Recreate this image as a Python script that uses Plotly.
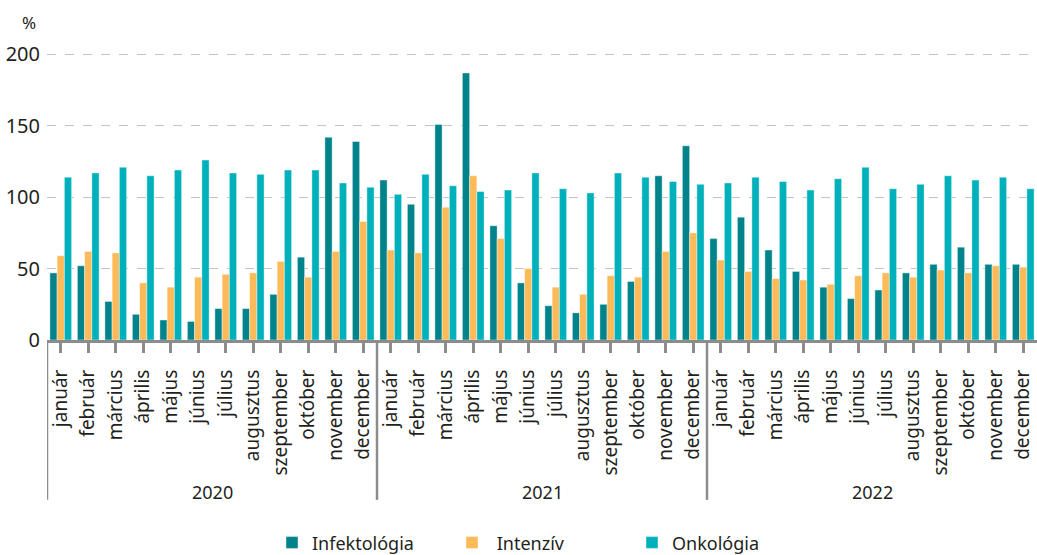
import plotly.graph_objects as go

months = ["január", "február", "március", "április", "május", "június",
          "július", "augusztus", "szeptember", "október", "november", "december"]
years = ["2020", "2021", "2022"]

infektologia = [47, 52, 27, 18, 14, 13, 22, 22, 32, 58, 142, 139,
                112, 95, 151, 187, 80, 40, 24, 19, 25, 41, 115, 136,
                71, 86, 63, 48, 37, 29, 35, 47, 53, 65, 53, 53]
intenziv = [59, 62, 61, 40, 37, 44, 46, 47, 55, 44, 62, 83,
            63, 61, 93, 115, 71, 50, 37, 32, 45, 44, 62, 75,
            56, 48, 43, 42, 39, 45, 47, 44, 49, 47, 52, 51]
onkologia = [114, 117, 121, 115, 119, 126, 117, 116, 119, 119, 110, 107,
             102, 116, 108, 104, 105, 117, 106, 103, 117, 114, 111, 109,
             110, 114, 111, 105, 113, 121, 106, 109, 115, 112, 114, 106]

n_cat = len(years) * len(months)
x_idx = list(range(n_cat))
x_labels = months * len(years)

font_family = "Noto Sans, Open Sans, sans-serif"
text_col = "#231F20"
axis_col = "#8C8C8C"

fig = go.Figure()
series = [("Infektológia", infektologia, "#00838A"),
          (" Intenzív", intenziv, "#FCBA58"),
          ("Onkológia", onkologia, "#00B1BC")]
for name, vals, col in series:
    fig.add_trace(go.Bar(x=x_idx, y=vals, name=name,
                         marker=dict(color=col, line=dict(color="rgba(255,255,255,0.7)", width=0.6))))

# year separators
for i in range(len(years)):
    fig.add_shape(type="line", xref="x", yref="paper",
                  x0=i * 12 - 0.5, x1=i * 12 - 0.5, y0=0, y1=-0.557,
                  line=dict(color=axis_col, width=2.5))
    fig.add_annotation(x=i * 12 + 5.5, y=-0.53, xref="x", yref="paper",
                       text=years[i], showarrow=False,
                       font=dict(size=18, color=text_col, family=font_family),
                       yanchor="middle")

fig.add_annotation(x=-0.027, y=1.108, xref="paper", yref="paper", xanchor="left",
                   yanchor="middle", text="%", showarrow=False,
                   font=dict(size=17, color=text_col, family=font_family))

fig.update_layout(
    width=1037, height=555,
    margin=dict(l=47, r=0, t=53, b=215, autoexpand=False),
    plot_bgcolor="white", paper_bgcolor="white",
    barmode="group", bargap=0.21, bargroupgap=0.0,
    font=dict(family=font_family, color=text_col),
    xaxis=dict(tickmode="array", tickvals=x_idx, ticktext=x_labels,
               tickangle=-90, range=[-0.5, n_cat - 0.5], automargin=False,
               tickson="boundaries", ticks="outside", ticklen=10,
               tickwidth=2.5, tickcolor=axis_col,
               showline=True, linecolor=axis_col, linewidth=3,
               showgrid=False, zeroline=False, ticklabelstandoff=9,
               tickfont=dict(size=19, color=text_col, family=font_family)),
    yaxis=dict(range=[0, 201], tickvals=[0, 50, 100, 150, 200], automargin=False,
               showgrid=True, gridcolor="#C4C4C4", griddash="dash", gridwidth=1,
               zeroline=False, showline=False, ticks="",
               ticklabelstandoff=6,
               tickfont=dict(size=20, color=text_col, family=font_family)),
    legend=dict(orientation="h", x=0.50, xanchor="center", y=-0.707, yanchor="middle",
                font=dict(size=18, color=text_col, family=font_family),
                itemwidth=30, entrywidth=135, entrywidthmode="pixels"),
)

fig.write_html("out.html", config={"displayModeBar": False},
               post_script="document.body.style.margin='0';document.body.style.overflow='hidden';")
